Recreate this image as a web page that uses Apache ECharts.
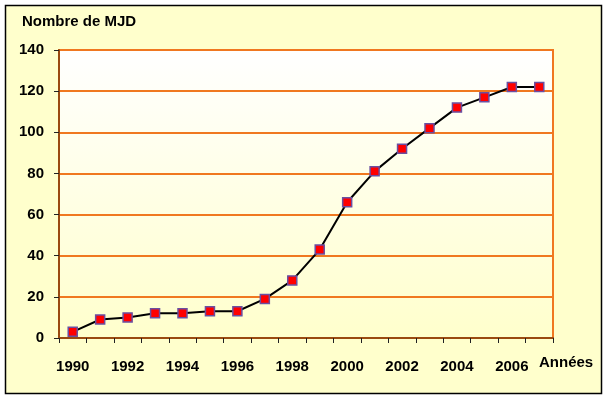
<!DOCTYPE html>
<html>
<head>
<meta charset="utf-8">
<script src="https://cdn.jsdelivr.net/npm/echarts@6/dist/echarts.min.js"></script>
<style>html,body{margin:0;padding:0;background:#fff}#c{width:608px;height:400px}</style>
</head>
<body>
<div id="c"></div>
<script>
var years = ['1990','1991','1992','1993','1994','1995','1996','1997','1998','1999','2000','2001','2002','2003','2004','2005','2006','2007'];
var mjdCount = [3, 9, 10, 12, 12, 13, 13, 19, 28, 43, 66, 81, 92, 102, 112, 117, 122, 122];
var yTicks = [0, 20, 40, 60, 80, 100, 120, 140];

var FONT = "'Liberation Sans', Arial, sans-serif";
var chart = echarts.init(document.getElementById('c'), null, {renderer: 'canvas'});
chart.setOption({
  backgroundColor: '#ffffff',
  animation: false,
  graphic: [
    {type: 'rect', z: -10, shape: {x: 5.5, y: 5.5, width: 596, height: 388},
     style: {fill: '#FFFFCC', stroke: '#000', lineWidth: 1.5}},
    {type: 'text', left: 22, top: 14,
     style: {text: 'Nombre de MJD', font: 'bold 15px ' + FONT, fill: '#000'}},
    {type: 'text', left: 539, top: 355,
     style: {text: 'Années', font: 'bold 15px ' + FONT, fill: '#000'}}
  ],
  grid: {
    left: 59, right: 55, top: 50, bottom: 62,
    show: true,
    borderColor: '#F07820', borderWidth: 2,
    backgroundColor: new echarts.graphic.LinearGradient(0, 0, 0, 1, [
      {offset: 0, color: '#FFFFFF'},
      {offset: 1, color: '#FFFFCC'}
    ])
  },
  xAxis: {
    type: 'category',
    data: years,
    boundaryGap: true,
    axisLine: {lineStyle: {color: '#9A4A10', width: 2}},
    axisTick: {show: true, interval: 0, length: 5, lineStyle: {color: '#222', width: 1}},
    axisLabel: {interval: 1, margin: 21, color: '#000', fontFamily: FONT, fontWeight: 'bold', fontSize: 15},
    splitLine: {show: false}
  },
  yAxis: {
    type: 'value',
    min: yTicks[0], max: yTicks[yTicks.length - 1], interval: 20,
    axisLine: {show: true, lineStyle: {color: '#9A4A10', width: 2}},
    axisTick: {show: true, length: 5, lineStyle: {color: '#222', width: 1}},
    axisLabel: {margin: 15, color: '#000', fontFamily: FONT, fontWeight: 'bold', fontSize: 15},
    splitLine: {show: true, lineStyle: {color: '#F07820', width: 2}}
  },
  series: [{
    type: 'line',
    data: mjdCount,
    symbol: 'rect',
    symbolSize: 9,
    lineStyle: {color: '#000', width: 2},
    itemStyle: {color: '#FF0000', borderColor: '#6A4FA0', borderWidth: 1.5},
    z: 5
  }]
});
</script>
</body>
</html>
